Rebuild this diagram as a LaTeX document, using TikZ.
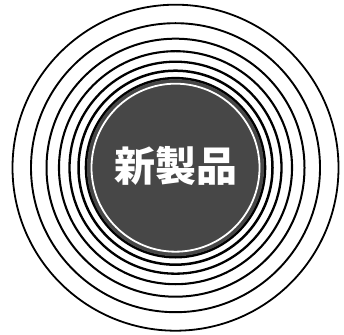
\documentclass[tikz,border=0pt]{standalone}
\usepackage{fontspec}
\newfontfamily\cjk{Noto Sans CJK JP}
\usetikzlibrary{positioning}

\begin{document}
\begin{tikzpicture}[x=1pt, y=1pt, thick]
    \useasboundingbox (0,0) rectangle (344,334);
    \coordinate (c) at (175.5,166.3);

    % rings round the product
    \foreach \r/\w in {163/1.8, 144.5/1.9, 129/2.0, 116.5/2.1, 106/2.3, 97/2.5, 89.5/2.6}
        \draw[line width=\w pt] (c) circle (\r);

    % dark disc
    \fill[black!72] (c) circle (88.5);
    \draw[white, line width=1.8pt] (c) circle (84);

    \node[text=white, font=\cjk\bfseries\fontsize{41}{42}\selectfont] (prod) at (175.5,168) {新製品};
\end{tikzpicture}
\end{document}
